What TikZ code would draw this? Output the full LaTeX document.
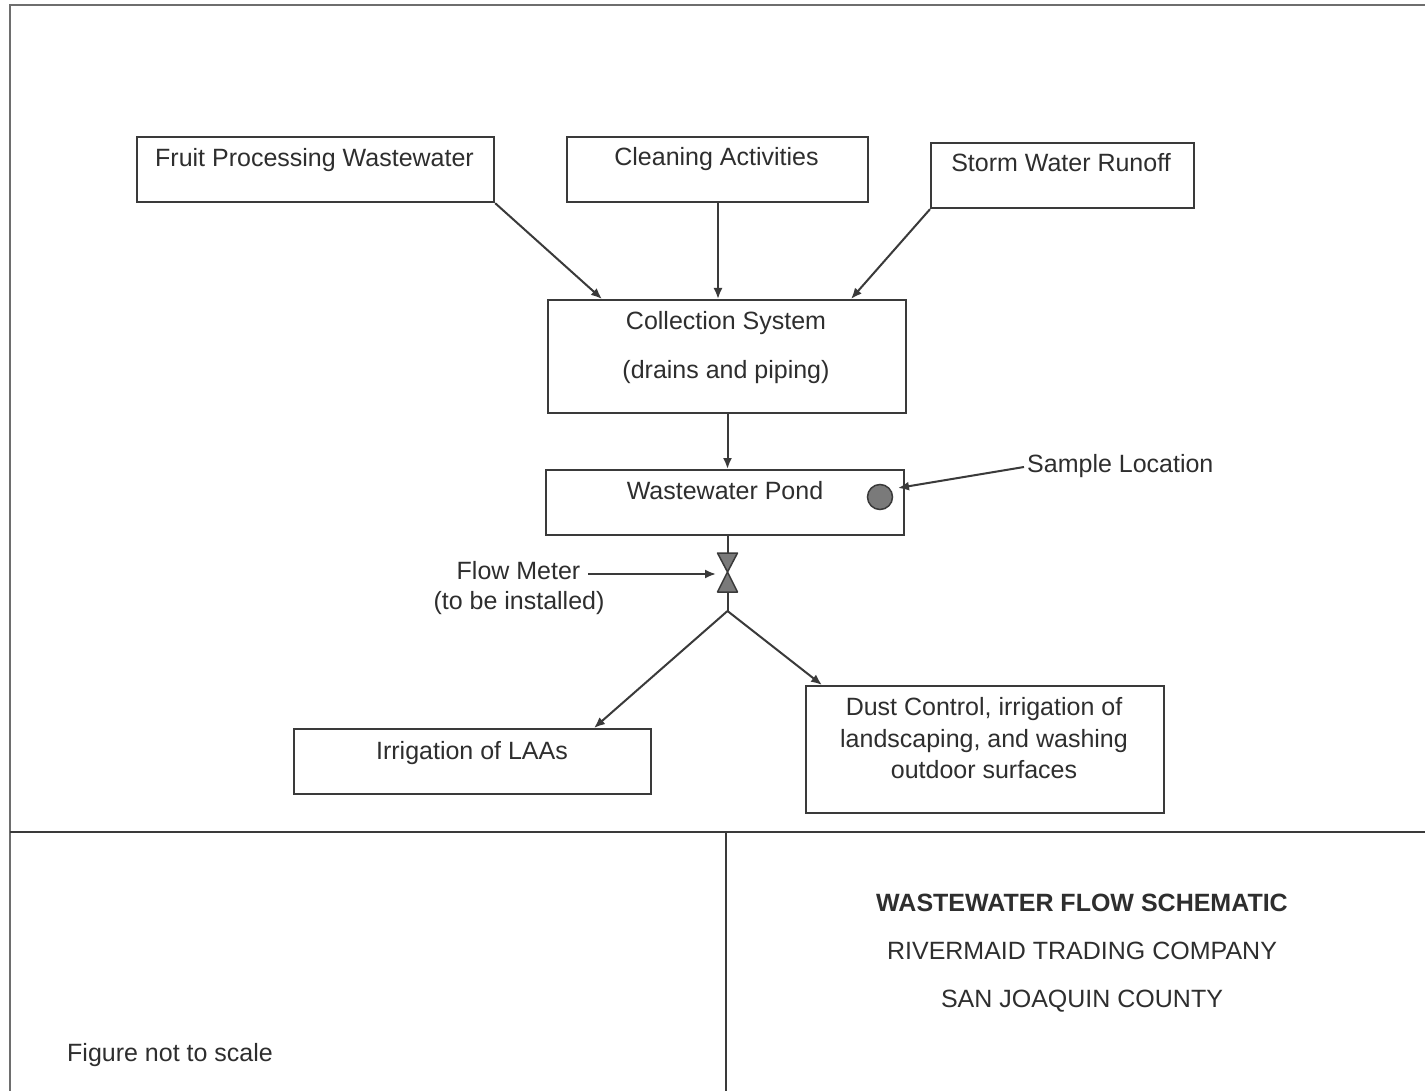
\documentclass[tikz,border=0pt]{standalone}
\usepackage{fontspec}
\setmainfont{Liberation Sans}
\usetikzlibrary{arrows.meta}
\definecolor{ink}{HTML}{3A3A3A}
\definecolor{txtc}{HTML}{2E2E2E}
\definecolor{framec}{HTML}{555555}
\definecolor{dotfill}{HTML}{7A7A7A}
\begin{document}
\begin{tikzpicture}[x=1pt,y=-1pt,
  box/.style={draw=ink, line width=2.2pt, rectangle, inner sep=0pt, anchor=north west},
  lbl/.style={anchor=base, text=txtc, font=\fontsize{25}{30}\selectfont, inner sep=0pt},
  flow/.style={draw=ink, line width=2pt, -{Latex[length=11pt,width=9pt]}},
  pipe/.style={draw=ink, line width=2pt},
  rule/.style={draw=framec, line width=2.5pt},
]
\useasboundingbox (0,0) rectangle (1425,1091);
\fill[white] (0,0) rectangle (1425,1091);

% frame
\draw[rule, draw=framec!85] (1440,5) -- (10,5) -- (10,1100);
\draw[rule, draw=ink] (10,832) -- (1440,832);
\draw[rule, draw=ink] (726,832) -- (726,1100);

% boxes
\node[box, minimum width=357pt, minimum height=65pt] (fruit) at (136,136) {};
\node[lbl] (fruitT) at (314.5,167) {Fruit Processing Wastewater};
\node[box, minimum width=301pt, minimum height=65pt] (clean) at (566,136) {};
\node[lbl] (cleanT) at (716.5,166) {Cleaning Activities};
\node[box, minimum width=263pt, minimum height=65pt] (storm) at (930,142) {};
\node[lbl] (stormT) at (1061,172) {Storm Water Runoff};

\node[box, minimum width=358pt, minimum height=113pt] (coll) at (547,299) {};
\node[lbl] (collT1) at (726,330) {Collection System};
\node[lbl] (collT2) at (726,378) {(drains and piping)};

\node[box, minimum width=358pt, minimum height=65pt] (pond) at (545,469) {};
\node[lbl] (pondT) at (725,499) {Wastewater Pond};
\node[circle, draw=ink, line width=1.5pt, fill=dotfill, minimum size=25pt, inner sep=0pt] (dot) at (880,497) {};

\node[box, minimum width=357pt, minimum height=65pt] (irr) at (293,728) {};
\node[lbl] (irrT) at (472,759) {Irrigation of LAAs};
\node[box, minimum width=358pt, minimum height=127pt] (dust) at (805,685) {};
\node[lbl] (dustT1) at (984,715) {Dust Control, irrigation of};
\node[lbl] (dustT2) at (984,747) {landscaping, and washing};
\node[lbl] (dustT3) at (984,778) {outdoor surfaces};

% labels
\node[lbl, anchor=base west] (sampleT) at (1027,472) {Sample Location};
\node[lbl] (fmT1) at (518.5,579) {Flow Meter};
\node[lbl] (fmT2) at (519,609) {(to be installed)};

% coordinates
\coordinate (c1) at (602,299);
\coordinate (c2) at (718,299);
\coordinate (c3) at (851,299);
\coordinate (pt) at (727.5,469);
\coordinate (fmtop) at (727.5,553);
\coordinate (fmmid) at (727.5,572);
\coordinate (fmbot) at (727.5,592);
\coordinate (jn) at (727.5,611);
\coordinate (irrtip) at (594,728);
\coordinate (dusttip) at (822,685);
\coordinate (sstart) at (1024,467);
\coordinate (send) at (898,488);
\coordinate (fmstart) at (588,574);
\coordinate (fmtip) at (716,574);

% flow meter bowtie
\filldraw[draw=ink, fill=dotfill, line width=1.5pt, line join=round]
  ([xshift=-10pt]fmtop) -- ([xshift=10pt]fmtop) -- (fmmid) -- cycle;
\filldraw[draw=ink, fill=dotfill, line width=1.5pt, line join=round]
  ([xshift=-10pt]fmbot) -- ([xshift=10pt]fmbot) -- (fmmid) -- cycle;

% connectors
\draw[flow] (fruit.south east) -- (c1);
\draw[flow] (clean.south -| c2) -- (c2);
\draw[flow] (storm.south west) -- (c3);
\draw[flow] (coll.south -| pt) -- (pt);
\draw[pipe] (fmtop |- pond.south) -- (fmtop);
\draw[pipe] (fmbot) -- (jn);
\draw[flow] (jn) -- (irrtip);
\draw[flow] (jn) -- (dusttip);
\draw[flow] (sstart) -- (send);
\draw[flow] (fmstart) -- (fmtip);

% title block
\node[lbl, font=\fontsize{25}{30}\selectfont\bfseries] (title1) at (1082,911) {WASTEWATER FLOW SCHEMATIC};
\node[lbl] (title2) at (1082,959) {RIVERMAID TRADING COMPANY};
\node[lbl] (title3) at (1082,1007) {SAN JOAQUIN COUNTY};
\node[lbl, anchor=base west] (scaleT) at (67,1061) {Figure not to scale};
\end{tikzpicture}
\end{document}
